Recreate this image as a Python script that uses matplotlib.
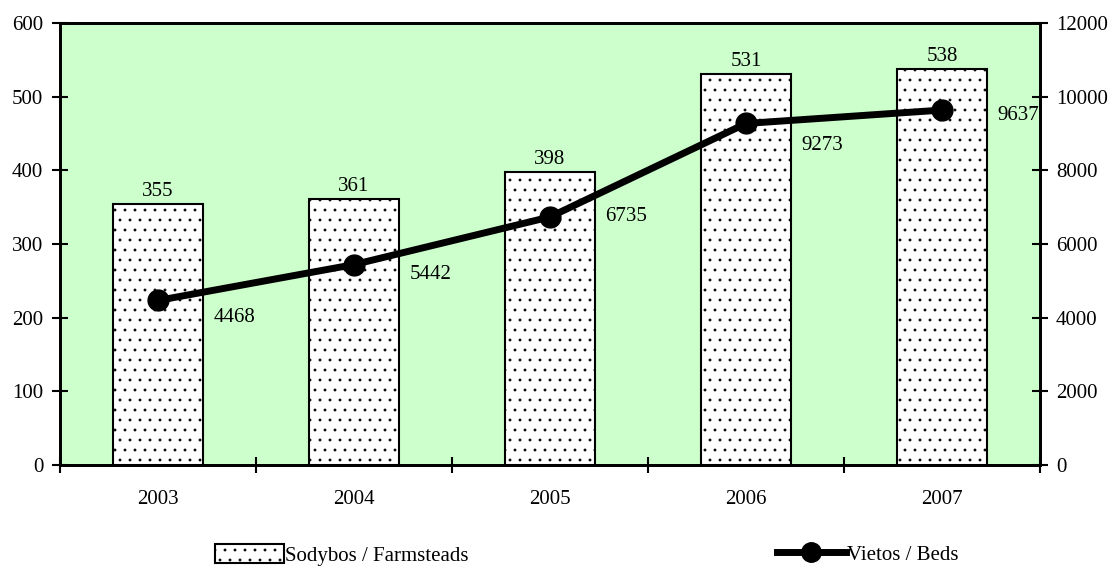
import matplotlib
matplotlib.use("Agg")
import matplotlib.pyplot as plt
import matplotlib.hatch as mhatch
import numpy as np
from matplotlib.patches import Patch
from matplotlib.lines import Line2D

years = ["2003", "2004", "2005", "2006", "2007"]
farmsteads = [355, 361, 398, 531, 538]
beds = [4468, 5442, 6735, 9273, 9637]

# vertical nudge (points) of each beds label, as placed in the original
label_drop = [12, 7, 0, 16, 4]


# dot hatch a bit sparser than matplotlib's '..' (10 rows per hatch cell)
class SparseDots(mhatch.SmallFilledCircles):
    def __init__(self, hatch, density):
        self.num_rows = hatch.count('.') * 10
        mhatch.Circles.__init__(self, hatch, density)


mhatch._hatch_types[mhatch._hatch_types.index(mhatch.SmallFilledCircles)] = SparseDots

plt.rcParams['font.family'] = ['Liberation Serif', 'DejaVu Serif']
plt.rcParams['hatch.linewidth'] = 0.6
plt.rcParams['hatch.color'] = '#333333'

fs = 15
fig = plt.figure(figsize=(11.09, 5.7), dpi=100)
ax = fig.add_axes([0.0541, 0.1842, 0.8837, 0.7754])
ax.set_facecolor('#ccffcc')
x = np.arange(len(years))

ax.bar(x, farmsteads, width=0.46, color='white', edgecolor='black',
       linewidth=1.5, hatch='.', zorder=2)
for xi, v in zip(x, farmsteads):
    ax.annotate(str(v), (xi, v), xytext=(0, 2), textcoords='offset points',
                ha='center', va='bottom', fontsize=fs)

ax.set_xlim(-0.5, 4.5)
ax.set_ylim(0, 600)
ax.set_yticks(range(0, 601, 100))
ax.set_xticks(np.arange(-0.5, 5, 1))
ax.set_xticklabels([])
ax.set_xticks(x, minor=True)
ax.set_xticklabels(years, minor=True)
ax.tick_params(axis='x', which='minor', length=0, pad=18, labelsize=fs)
ax.tick_params(axis='x', which='major', direction='inout', length=11, width=1.5)
ax.tick_params(axis='y', direction='inout', length=11, width=1.5, labelsize=fs, pad=6.5)
for s in ax.spines.values():
    s.set_linewidth(2)

ax2 = ax.twinx()
ax2.plot(x, beds, color='black', linewidth=5, marker='o', markersize=15, zorder=3)
for xi, v, dy in zip(x, beds, label_drop):
    ax2.annotate(str(v), (xi, v), xytext=(55, -dy), textcoords='offset points',
                 ha='center', va='center', fontsize=fs)
ax2.set_ylim(0, 12000)
ax2.set_yticks(range(0, 12001, 2000))
ax2.tick_params(axis='y', direction='inout', length=11, width=1.5, labelsize=fs, pad=6)
for s in ax2.spines.values():
    s.set_linewidth(2)

handles = [Patch(facecolor='white', edgecolor='black', hatch='.', linewidth=1.5),
           Line2D([0], [0], color='black', linewidth=5, marker='o', markersize=14)]
fig.legend(handles, ["Sodybos / Farmsteads", "Vietos / Beds"], loc='lower center',
           bbox_to_anchor=(0.529, -0.025), ncol=2, frameon=False, fontsize=15,
           columnspacing=14.8, handlelength=3.3, handleheight=1.0, handletextpad=0.05)

fig.savefig("out.png", dpi=100)
